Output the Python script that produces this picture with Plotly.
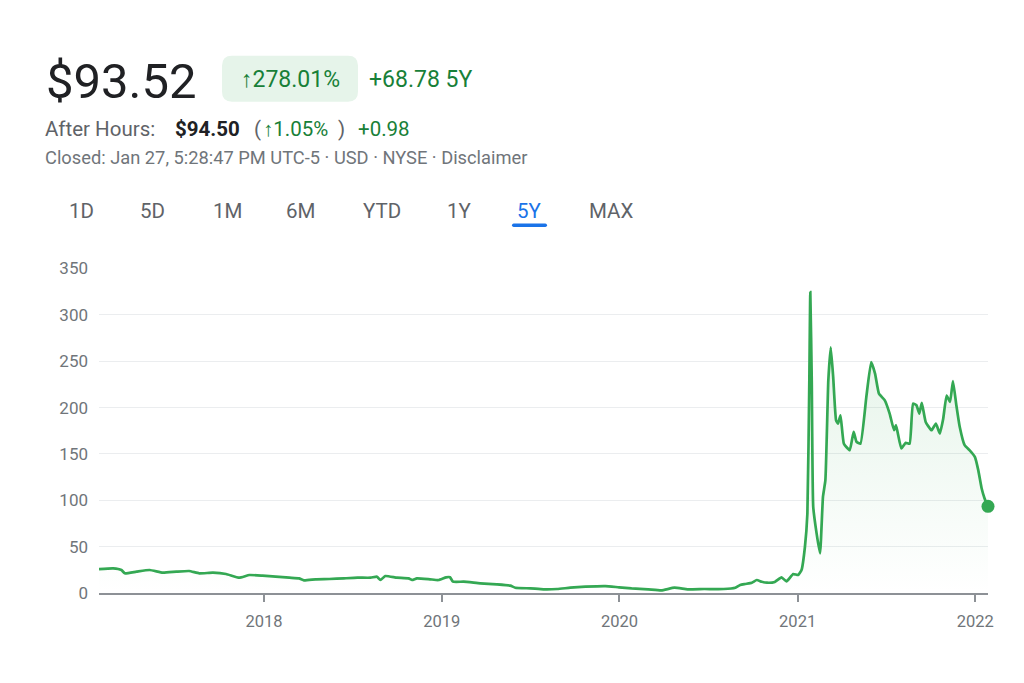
import plotly.graph_objects as go

# ---------------- data ----------------
dates = [
    "2017-01-27", "2017-02-25", "2017-03-14", "2017-03-21", "2017-04-14", "2017-05-11",
    "2017-06-07", "2017-07-05", "2017-07-31", "2017-08-21", "2017-09-18", "2017-10-15",
    "2017-11-11", "2017-12-02", "2017-12-29", "2018-01-25", "2018-02-22", "2018-03-14",
    "2018-03-24", "2018-04-17", "2018-05-15", "2018-06-14", "2018-07-12", "2018-08-08",
    "2018-08-21", "2018-08-28", "2018-09-07", "2018-10-01", "2018-10-25", "2018-11-01",
    "2018-11-11", "2018-12-08", "2018-12-25", "2019-01-10", "2019-01-18", "2019-01-24",
    "2019-02-15", "2019-03-21", "2019-04-24", "2019-05-22", "2019-06-01", "2019-07-02",
    "2019-07-29", "2019-08-26", "2019-09-22", "2019-10-23", "2019-12-03", "2019-12-31",
    "2020-01-26", "2020-02-29", "2020-03-27", "2020-04-23", "2020-05-20", "2020-06-23",
    "2020-08-02", "2020-08-26", "2020-09-05", "2020-09-15", "2020-09-29", "2020-10-09",
    "2020-10-19", "2020-10-30", "2020-11-15", "2020-11-29", "2020-12-09", "2020-12-23",
    "2021-01-02", "2021-01-09", "2021-01-16", "2021-01-21", "2021-01-25", "2021-01-27",
    "2021-01-30", "2021-02-02", "2021-02-09", "2021-02-16", "2021-02-22", "2021-02-27",
    "2021-03-05", "2021-03-10", "2021-03-15", "2021-03-21", "2021-03-25", "2021-03-30",
    "2021-04-06", "2021-04-18", "2021-04-26", "2021-05-02", "2021-05-10", "2021-05-22",
    "2021-06-01", "2021-06-09", "2021-06-17", "2021-06-29", "2021-07-09", "2021-07-18",
    "2021-07-22", "2021-08-02", "2021-08-11", "2021-08-19", "2021-08-26", "2021-09-02",
    "2021-09-08", "2021-09-13", "2021-09-21", "2021-10-03", "2021-10-12", "2021-10-20",
    "2021-10-27", "2021-11-03", "2021-11-10", "2021-11-16", "2021-11-23", "2021-11-30",
    "2021-12-10", "2021-12-20", "2021-12-31", "2022-01-07", "2022-01-14", "2022-01-20",
    "2022-01-27",
]
prices = [
    25.8, 26.6, 24.8, 21.2, 23.0, 24.8,
    21.9, 23.0, 23.7, 21.2, 21.9, 20.5,
    16.5, 19.4, 18.7, 17.6, 16.5, 15.8,
    13.7, 14.8, 15.1, 15.8, 16.5, 16.5,
    17.6, 14.0, 18.3, 16.5, 15.8, 14.0,
    15.8, 14.8, 14.0, 16.9, 17.0, 12.2,
    12.2, 10.4, 9.3, 7.9, 5.7, 5.0,
    4.0, 4.3, 5.7, 6.8, 7.5, 6.1,
    5.0, 4.0, 2.8, 5.7, 4.0, 4.3,
    4.3, 5.7, 8.6, 9.7, 11.1, 14.0,
    12.2, 11.1, 11.9, 16.9, 12.5, 20.5,
    19.4, 24.8, 49.9, 85.8, 229.0, 324.5,
    229.0, 93.0, 64.0, 42.7, 103.7, 121.7,
    229.0, 265.0, 233.0, 186.0, 182.7, 191.7,
    161.0, 154.0, 173.7, 163.0, 161.0, 211.0,
    249.0, 236.6, 215.0, 207.8, 193.5, 175.5,
    181.0, 155.8, 162.0, 161.0, 204.3, 202.5,
    193.5, 205.0, 184.5, 175.5, 182.7, 172.0,
    188.0, 213.0, 206.0, 228.6, 202.5, 179.0,
    159.4, 154.0, 146.8, 132.5, 112.7, 102.0,
    93.52,
]

y_ticks = [0, 50, 100, 150, 200, 250, 300, 350]
x_tickvals = ["2018-01-01", "2019-01-01", "2020-01-01", "2021-01-01", "2022-01-01"]
x_ticktext = ["2018", "2019", "2020", "2021", "2022"]
tabs = ["1D", "5D", "1M", "6M", "YTD", "1Y", "5Y", "MAX"]
active_tab = "5Y"

price_text = "$93.52"
pct_text = "↑278.01%"
chg_text = "+68.78 5Y"
ah_label = "After Hours:"
ah_price = "$94.50"
ah_pct = "↑1.05%"
ah_chg = "+0.98"
closed_text = "Closed: Jan 27, 5:28:47 PM UTC-5 · USD · NYSE · Disclaimer"

# ---------------- styling ----------------
FONT = "Roboto, Arial, sans-serif"
GREEN = "#34a853"
DGREEN = "#188038"
DARK = "#202124"
GRAY = "#5f6368"
LGRAY = "#70757a"
BLUE = "#1a73e8"

W, H = 1024, 683
PL, PR, PT, PB = 99, 988, 267.5, 593


def px(x):
    return (x - PL) / (PR - PL)


def py(y):
    return (PB - y) / (PB - PT)


fig = go.Figure()

fig.add_trace(go.Scatter(
    x=dates, y=prices, mode="lines",
    line=dict(color=GREEN, width=2.7, shape="spline", smoothing=0.4),
    fill="tozeroy",
    fillgradient=dict(type="vertical", start=0, stop=300,
                      colorscale=[[0, "rgba(52,168,83,0)"], [1, "rgba(52,168,83,0.14)"]]),
    hoverinfo="skip", showlegend=False,
))
fig.add_trace(go.Scatter(
    x=[dates[-1]], y=[prices[-1]], mode="markers",
    marker=dict(color=GREEN, size=13), cliponaxis=False,
    hoverinfo="skip", showlegend=False,
))

ann = []


def text(x, y, s, size, color, anchor="left", weight="normal"):
    ann.append(dict(x=px(x), y=py(y), xref="paper", yref="paper", text=s,
                    showarrow=False, xanchor=anchor, yanchor="middle",
                    font=dict(family=FONT, size=size, color=color, weight=weight)))


text(44, 81, price_text, 49, DARK)
text(290, 79, pct_text, 23, DGREEN, anchor="center")
text(367, 79, chg_text, 23, DGREEN)
text(43, 128, ah_label, 20.5, GRAY)
text(173, 128, ah_price, 20.5, DARK, weight="bold")
text(252, 128, "(", 20.5, GRAY)
text(261, 128, ah_pct, 20.5, DGREEN)
text(336, 128, ")", 20.5, GRAY)
text(356, 128, ah_chg, 20.5, DGREEN)
text(43, 157, closed_text, 18.3, LGRAY)

tab_x = [81, 152, 227, 300, 382, 459, 529, 611]
for t, x in zip(tabs, tab_x):
    text(x, 210, t, 20.5, BLUE if t == active_tab else GRAY, anchor="center")


def rounded_rect(x0, y0, x1, y1, r):
    X0, X1 = px(x0), px(x1)
    Y0, Y1 = py(y0), py(y1)
    rx = r / (PR - PL)
    ry = r / (PB - PT)
    return (f"M {X0+rx},{Y0} L {X1-rx},{Y0} Q {X1},{Y0} {X1},{Y0-ry} "
            f"L {X1},{Y1+ry} Q {X1},{Y1} {X1-rx},{Y1} L {X0+rx},{Y1} "
            f"Q {X0},{Y1} {X0},{Y1+ry} L {X0},{Y0-ry} Q {X0},{Y0} {X0+rx},{Y0} Z")


shapes = [
    dict(type="path", xref="paper", yref="paper",
         path=rounded_rect(222, 55, 358, 101, 10),
         fillcolor="#e6f4ea", line=dict(width=0), layer="below"),
    dict(type="path", xref="paper", yref="paper",
         path=rounded_rect(512, 223, 547, 226.5, 1.7),
         fillcolor=BLUE, line=dict(width=0)),
]

fig.update_layout(
    width=W, height=H,
    margin=dict(l=PL, r=W - PR, t=PT, b=H - PB, pad=0),
    paper_bgcolor="white", plot_bgcolor="white",
    font=dict(family=FONT, color=LGRAY, size=16),
    showlegend=False,
    annotations=ann, shapes=shapes,
    xaxis=dict(
        type="date", range=["2017-01-27", "2022-01-27"],
        tickvals=x_tickvals, ticktext=x_ticktext,
        showgrid=False, zeroline=False,
        showline=True, linecolor="#8d9196", linewidth=1.5,
        ticks="outside", ticklen=7, tickwidth=1.5, tickcolor="#8d9196",
        tickfont=dict(family=FONT, size=16.5, color=LGRAY),
        ticklabelstandoff=5, fixedrange=True,
    ),
    yaxis=dict(
        range=[0, 350.5], tickvals=y_ticks,
        showgrid=True, gridcolor="#ebedef", gridwidth=1,
        zeroline=False, showline=False, ticks="",
        tickfont=dict(family=FONT, size=17, color=LGRAY),
        ticklabelstandoff=10, fixedrange=True,
    ),
)

fig.write_html("out.html", include_plotlyjs=True, config={"displayModeBar": False})
